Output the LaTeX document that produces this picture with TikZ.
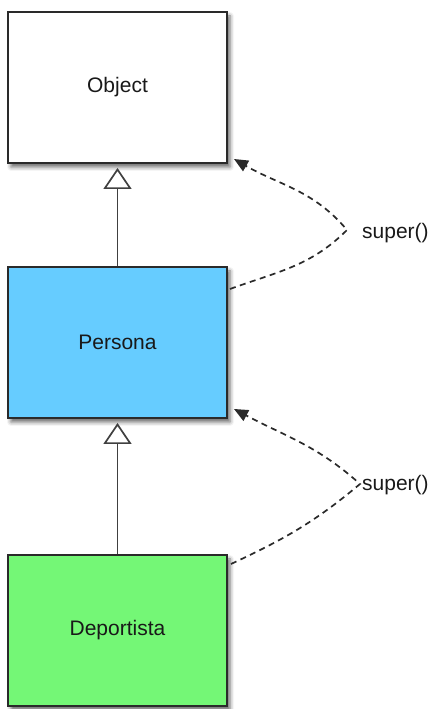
\documentclass[tikz,border=0pt]{standalone}
\usepackage{fontspec}
\setmainfont{Liberation Sans}
\usetikzlibrary{positioning}
\usetikzlibrary{arrows.meta}
\usetikzlibrary{shadows.blur}

\definecolor{personablue}{HTML}{66CCFF}
\definecolor{deportegreen}{HTML}{74F776}
\definecolor{edgegray}{HTML}{2A2A2A}

\begin{document}
\begin{tikzpicture}[
    x=1pt, y=1pt,
    classnode/.style={rectangle, draw=edgegray, line width=2pt, minimum width=219pt, minimum height=151pt, font=\fontsize{21}{25}\selectfont, text=black!90, blur shadow={shadow xshift=3pt, shadow yshift=-4pt, shadow blur radius=4pt, shadow opacity=60}},
    inherit/.style={-{Triangle[open, length=21pt, width=28pt]}, draw=black!75, line width=1.7pt, shorten >=4pt},
    callline/.style={-{Triangle[length=14pt, width=12pt]}, draw=edgegray, line width=1.7pt, dash pattern=on 6pt off 4.5pt},
    calllabel/.style={anchor=west, inner sep=0pt, font=\fontsize{21}{25}\selectfont, text=black!90}
    ]
    \useasboundingbox (0,0) rectangle (434,709);

    %Nodes
    \node[classnode, fill=white] (object) at (117.5,621.5) {Object};
    \node[classnode, fill=personablue, below=102pt of object] (persona) {Persona};
    \node[classnode, fill=deportegreen, below=135pt of persona] (deportista) {Deportista};

    \node[calllabel] (super1) at (362,476) {super()};
    \node[calllabel] (super2) at (362,224) {super()};

    \coordinate (bend1) at ([xshift=-15pt,yshift=3pt]super1.west);
    \coordinate (bend2) at ([xshift=-2pt,yshift=1pt]super2.west);

    %Lines
    \draw[inherit] (persona) -- (object);
    \draw[inherit] (deportista) -- (persona);

    \draw[callline] ([xshift=2pt,yshift=-23pt]persona.north east) to[out=20, in=225] (bend1)
        to[out=130, in=-30] ([xshift=6pt,yshift=5pt]object.south east);
    \draw[callline] ([xshift=3pt,yshift=-10pt]deportista.north east) to[out=25, in=220] (bend2)
        to[out=138, in=-28] ([xshift=6pt,yshift=10pt]persona.south east);

\end{tikzpicture}
\end{document}
